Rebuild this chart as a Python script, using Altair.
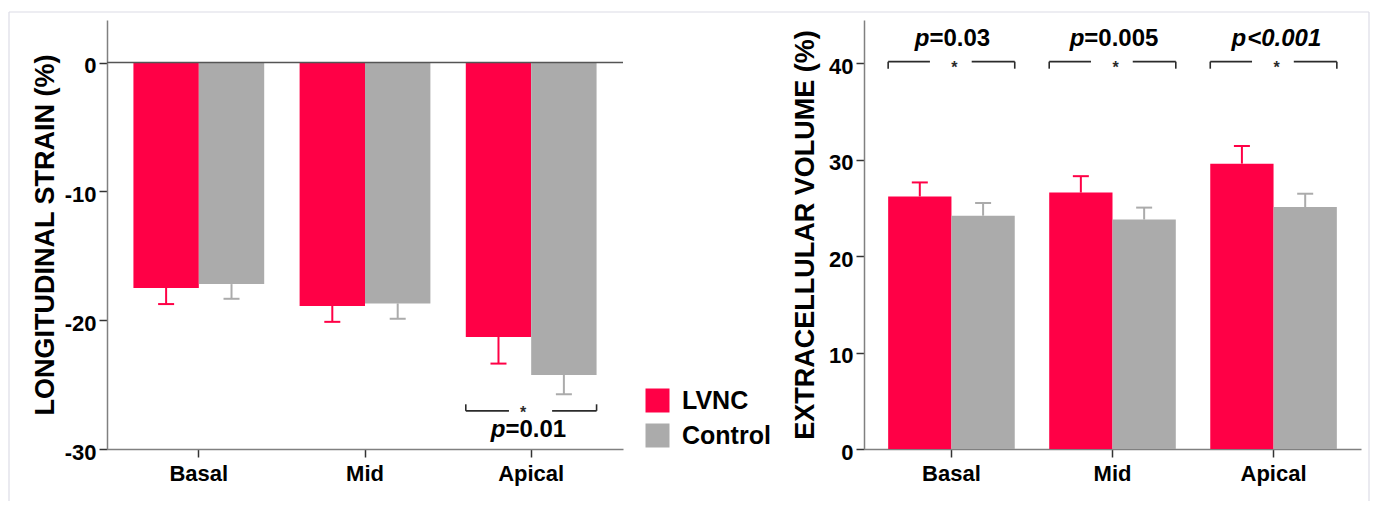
import altair as alt
import pandas as pd

FONT = "Liberation Sans"
RED = "#FF0046"
GREY = "#ABABAB"
INK = "#2b2b2b"
BORDER = "#DCDCE6"

# ---------------- data ----------------
segments = ["Basal", "Mid", "Apical"]
groups = ["LVNC", "Control"]

strain_lvnc = [-17.5, -18.9, -21.3]
strain_ctrl = [-17.2, -18.7, -24.25]
strain_lvnc_err = [1.25, 1.23, 2.07]
strain_ctrl_err = [1.14, 1.19, 1.50]

ecv_lvnc = [26.2, 26.6, 29.6]
ecv_ctrl = [24.2, 23.8, 25.1]
ecv_lvnc_err = [1.45, 1.70, 1.83]
ecv_ctrl_err = [1.32, 1.24, 1.38]

strain_sig_segments = ["Apical"]
strain_sig_p = ["=0.01"]
strain_sig_italic = [False]

ecv_sig_segments = ["Basal", "Mid", "Apical"]
ecv_sig_p = ["=0.03", "=0.005", "<0.001"]
ecv_sig_italic = [False, False, True]


def make_df(lv, ct, lv_e, ct_e, sign):
    rows = []
    for i, s in enumerate(segments):
        rows.append(dict(segment=s, group="LVNC", value=lv[i], end=lv[i] + sign * lv_e[i]))
        rows.append(dict(segment=s, group="Control", value=ct[i], end=ct[i] + sign * ct_e[i]))
    return pd.DataFrame(rows)


strain_df = make_df(strain_lvnc, strain_ctrl, strain_lvnc_err, strain_ctrl_err, -1)
ecv_df = make_df(ecv_lvnc, ecv_ctrl, ecv_lvnc_err, ecv_ctrl_err, +1)

# approximate Arial-bold advance widths (em) used only to place the two-part p labels
CW = {"p": 0.611, "=": 0.584, "<": 0.584, "0": 0.556, "1": 0.556, "3": 0.556, "5": 0.556, ".": 0.278}
PFS = 24

LEGEND = alt.Legend(
    title=None, orient="none", legendX=538, legendY=368, symbolType="square",
    symbolSize=576, symbolStrokeWidth=0, symbolOpacity=1, labelFont=FONT,
    labelFontSize=25, labelFontWeight="bold", labelColor="black", labelOffset=12,
    rowPadding=9, padding=0,
)


def panel(df, ydomain, yticks, ytitle, pin, pout, width, title_pad,
          sig_segs, sig_p, sig_italic, level, tip, text_y, text_shift,
          star_dx, star_dy, zero_line=False, border=False):
    xs = alt.Scale(paddingInner=pin, paddingOuter=pout)
    xaxis = alt.Axis(title=None, labelAngle=0, labelPadding=6)
    yaxis = alt.Axis(values=yticks, title=ytitle, titlePadding=title_pad,
                     labelPadding=3, labelOffset=3, labelExpr="'' + datum.value")
    ys = alt.Scale(domain=ydomain, nice=False, zero=False)

    def X(band=None):
        if band is None:
            return alt.X("segment:N", sort=segments, scale=xs, axis=xaxis)
        return alt.X("segment:N", sort=segments, scale=xs, axis=xaxis, bandPosition=band)

    def Y(field):
        return alt.Y(field, scale=ys, axis=yaxis, title=ytitle)

    xo = alt.XOffset("group:N", sort=groups, scale=alt.Scale(paddingInner=0, paddingOuter=0))
    cscale = alt.Scale(domain=groups, range=[RED, GREY])
    color = alt.Color("group:N", sort=groups, scale=cscale, legend=LEGEND)

    base = alt.Chart(df)
    bars = base.mark_bar().encode(x=X(), xOffset=xo, y=Y("value:Q"), color=color)
    err = base.mark_rule(strokeWidth=2).encode(
        x=X(), xOffset=xo, y=Y("value:Q"), y2="end:Q", color=color)
    caps = base.mark_tick(size=16, thickness=2, opacity=1).encode(
        x=X(), xOffset=xo, y=Y("end:Q"), color=color)

    layers = [bars]
    if zero_line:
        layers.append(
            alt.Chart(pd.DataFrame({"z": [0]})).mark_rule(color="#555555", strokeWidth=1.5)
            .encode(y=Y("z:Q"))
        )
    layers += [err, caps]

    bdf = pd.DataFrame({"segment": sig_segs, "level": [level] * len(sig_segs),
                        "tip": [tip] * len(sig_segs), "ty": [text_y] * len(sig_segs)})
    bb = alt.Chart(bdf)
    for a, b in [(0.0, 0.33), (0.66, 1.0)]:
        layers.append(bb.mark_rule(color=INK, strokeWidth=1.6).encode(
            x=X(a), x2=alt.X2("segment", bandPosition=b), y=Y("level:Q")))
    for a in [0.0, 1.0]:
        layers.append(bb.mark_rule(color=INK, strokeWidth=1.6).encode(
            x=X(a), y=Y("level:Q"), y2="tip:Q"))
    layers.append(bb.mark_text(text="*", font=FONT, fontSize=16, fontWeight="bold",
                               color=INK, dx=star_dx, dy=star_dy, baseline="middle").encode(
        x=X(), y=Y("level:Q")))

    for i, s in enumerate(sig_segs):
        rest = sig_p[i]
        w_p = CW["p"] * PFS
        w_tot = (CW["p"] + sum(CW[c] for c in rest)) * PFS
        bnd = text_shift[i] - w_tot / 2 + w_p
        one = alt.Chart(pd.DataFrame({"segment": [s], "ty": [text_y]}))
        layers.append(one.mark_text(text="p", font=FONT, fontSize=PFS, fontWeight="bold",
                                    fontStyle="italic", color="black", align="right",
                                    baseline="alphabetic", dx=bnd).encode(
            x=X(), y=Y("ty:Q")))
        kw = dict(fontStyle="italic") if sig_italic[i] else {}
        layers.append(one.mark_text(text=rest, font=FONT, fontSize=PFS, fontWeight="bold",
                                    color="black", align="left", baseline="alphabetic",
                                    dx=bnd + (1 if sig_italic[i] else 0), **kw).encode(
            x=X(), y=Y("ty:Q")))

    if border:
        bd = alt.Chart(pd.DataFrame({"a": [0]}))
        layers.append(bd.mark_rule(color=BORDER, strokeWidth=1.2).encode(
            x=alt.value(-98), y=alt.value(-8), y2=alt.value(481)))
        layers.append(bd.mark_rule(color=BORDER, strokeWidth=1.2).encode(
            x=alt.value(-98), x2=alt.value(1262), y=alt.value(-8)))
        layers.append(bd.mark_rule(color=BORDER, strokeWidth=1.2).encode(
            x=alt.value(1262), y=alt.value(-8), y2=alt.value(481)))

    return alt.layer(*layers).properties(width=width, height=429)


left = panel(strain_df, [-30, 3.3], [-30, -20, -10, 0], "LONGITUDINAL STRAIN (%)",
             0.213, 0.159, 516, 5,
             strain_sig_segments, strain_sig_p, strain_sig_italic,
             level=-27.04, tip=-26.53, text_y=-29.04, text_shift=[-2.7],
             star_dx=-8, star_dy=2, zero_line=True, border=True)

right = panel(ecv_df, [0, 44.5], [0, 10, 20, 30, 40], "EXTRACELLULAR VOLUME (%)",
              0.214, 0.150, 497, 9,
              ecv_sig_segments, ecv_sig_p, ecv_sig_italic,
              level=40.18, tip=39.45, text_y=41.84, text_shift=[1.0, 1.5, 2.3],
              star_dx=3, star_dy=6)

chart = (
    alt.hconcat(left, right, spacing=241, bounds="flush")
    .resolve_scale(x="independent", y="independent", xOffset="independent", color="shared")
    .resolve_legend(color="shared")
    .properties(padding={"left": 0, "top": 3, "right": 0, "bottom": 0})
    .configure(font=FONT)
    .configure_view(stroke=None)
    .configure_axis(
        labelFont=FONT, labelFontSize=22, labelFontWeight="bold", labelColor="black",
        titleFont=FONT, titleFontSize=27, titleFontWeight="bold", titleColor="black",
        domainColor="#808080", domainWidth=1.5, tickColor="#333333", tickWidth=1.5,
        tickSize=8, grid=False,
    )
)

chart.save("out.html", embed_options={"renderer": "svg", "actions": False})
